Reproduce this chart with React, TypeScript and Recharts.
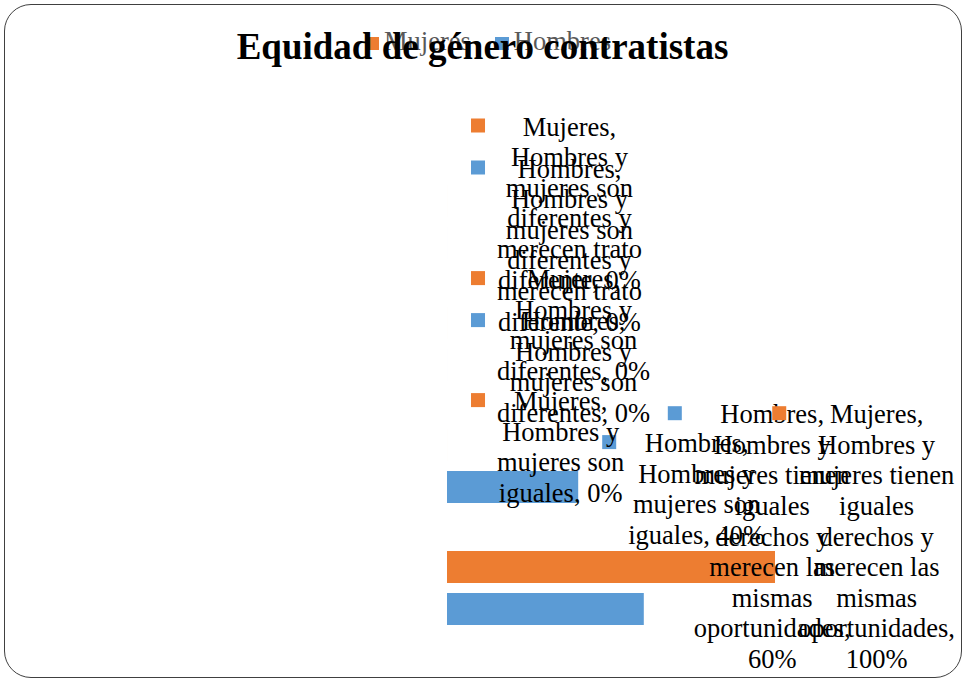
import React from "react";
import { Bar, BarChart, LabelList, Legend, XAxis, YAxis } from "recharts";

const categories = [
  "Hombres y mujeres son diferentes y merecen trato diferente",
  "Hombres y mujeres son diferentes",
  "Hombres y mujeres son iguales",
  "Hombres y mujeres tienen iguales derechos y merecen las mismas oportunidades",
];
const mujeres = [0, 0, 0, 100];
const hombres = [0, 0, 40, 60];
const seriesNames = ["Mujeres", "Hombres"];
const seriesKeys = ["mujeres", "hombres"];
const seriesColors = ["#ED7D31", "#5B9BD5"];
const title = "Equidad de género contratistas";

const data = categories.map((cat, i) => ({ cat, mujeres: mujeres[i], hombres: hombres[i] }));

const W = 965;
const H = 680;
const FONT = '"Liberation Serif", "Times New Roman", serif';
const LABEL_SIZE = 26.5;
const LH = 30.6;
const WRAP = 168;
const RIGHT_LIMIT = 955;
const BOTTOM_LIMIT = 668;
const MARGIN = { top: 161, right: 190, bottom: 31, left: 447 };

let ctx: CanvasRenderingContext2D | null = null;
function measure(s: string): number {
  if (!ctx) ctx = document.createElement("canvas").getContext("2d");
  if (!ctx) return s.length * LABEL_SIZE * 0.5;
  ctx.font = `${LABEL_SIZE}px "Liberation Serif"`;
  return ctx.measureText(s).width;
}

function wrap(text: string): string[] {
  const lines: string[] = [];
  let cur = "";
  for (const w of text.split(" ")) {
    const next = cur ? cur + " " + w : w;
    if (cur && measure(next) > WRAP) {
      lines.push(cur);
      cur = w;
    } else {
      cur = next;
    }
  }
  if (cur) lines.push(cur);
  return lines;
}

// excel-style label: legend key + "serie, categoria, valor", kept inside the chart
function makeLabel(color: string) {
  return (props: any) => {
    const vb = props.viewBox ?? props;
    const x = Number(vb.x);
    const y = Number(vb.y);
    const width = Number(vb.width) || 0;
    const height = Number(vb.height) || 0;
    const lines = wrap(String(props.value));
    const maxW = Math.max(...lines.map(measure));
    const kx = Math.min(x + width + 24, RIGHT_LIMIT - 26 - maxW);
    let first = y + height / 2 + 11 - ((lines.length - 1) * LH) / 2;
    const last = first + (lines.length - 1) * LH;
    if (last > BOTTOM_LIMIT) first -= last - BOTTOM_LIMIT;
    const cx = kx + 26 + maxW / 2;
    return (
      <g>
        <rect x={kx} y={first - 17} width={14} height={14} fill={color} />
        <text textAnchor="middle" fontFamily={FONT} fontSize={LABEL_SIZE} fill="#000">
          {lines.map((l, i) => (
            <tspan key={i} x={cx} y={first + i * LH}>
              {l}
            </tspan>
          ))}
        </text>
      </g>
    );
  };
}

function LegendBox() {
  return (
    <div
      style={{
        display: "flex",
        alignItems: "center",
        fontFamily: FONT,
        fontSize: LABEL_SIZE,
        lineHeight: "30px",
        color: "#595959",
        whiteSpace: "nowrap",
      }}
    >
      {seriesNames.map((n, i) => (
        <span
          key={n}
          style={{ display: "flex", alignItems: "center", flexShrink: 0, marginRight: i === 0 ? 24 : 0 }}
        >
          <span
            style={{
              display: "inline-block",
              flexShrink: 0,
              width: 14,
              height: 13,
              background: seriesColors[i],
              marginRight: 5,
              position: "relative",
              top: 2,
            }}
          />
          {n}
        </span>
      ))}
    </div>
  );
}

function Layer({ labelSeries, visible }: { labelSeries: number; visible: boolean }) {
  return (
    <BarChart width={W} height={H} data={data} layout="vertical" margin={MARGIN} barSize={32} barGap={10}>
      <XAxis type="number" domain={[0, 100]} hide />
      <YAxis type="category" dataKey="cat" hide />
      {visible && (
        <Legend
          layout="horizontal"
          verticalAlign="middle"
          align="center"
          wrapperStyle={{ top: 26, left: 365, width: 400 }}
          content={() => <LegendBox />}
        />
      )}
      {seriesKeys.map((k, i) => (
        <Bar
          key={k}
          dataKey={k}
          name={seriesNames[i]}
          fill={visible ? seriesColors[i] : "transparent"}
          minPointSize={0.01}
          isAnimationActive={false}
        >
          {i === labelSeries && (
            <LabelList
              valueAccessor={(entry: any) =>
                `${seriesNames[i]}, ${entry.payload.cat}, ${entry.payload[k]}%`
              }
              content={makeLabel(seriesColors[i])}
            />
          )}
        </Bar>
      ))}
    </BarChart>
  );
}

export default function App() {
  return (
    <div style={{ position: "absolute", left: 0, top: 0, width: W, height: H, background: "#fff" }}>
      <div
        style={{
          position: "absolute",
          left: 4,
          top: 4,
          width: 958,
          height: 674,
          boxSizing: "border-box",
          border: "1.5px solid #404040",
          borderRadius: 27,
        }}
      />
      <div style={{ position: "absolute", left: 0, top: 0 }}>
        <Layer labelSeries={1} visible />
      </div>
      <div style={{ position: "absolute", left: 0, top: 0, pointerEvents: "none" }}>
        <Layer labelSeries={0} visible={false} />
      </div>
      <div
        style={{
          position: "absolute",
          left: 0,
          top: 28,
          width: W,
          textAlign: "center",
          fontFamily: FONT,
          fontWeight: "bold",
          fontSize: 37,
          lineHeight: "37px",
          color: "#000",
        }}
      >
        {title}
      </div>
    </div>
  );
}
